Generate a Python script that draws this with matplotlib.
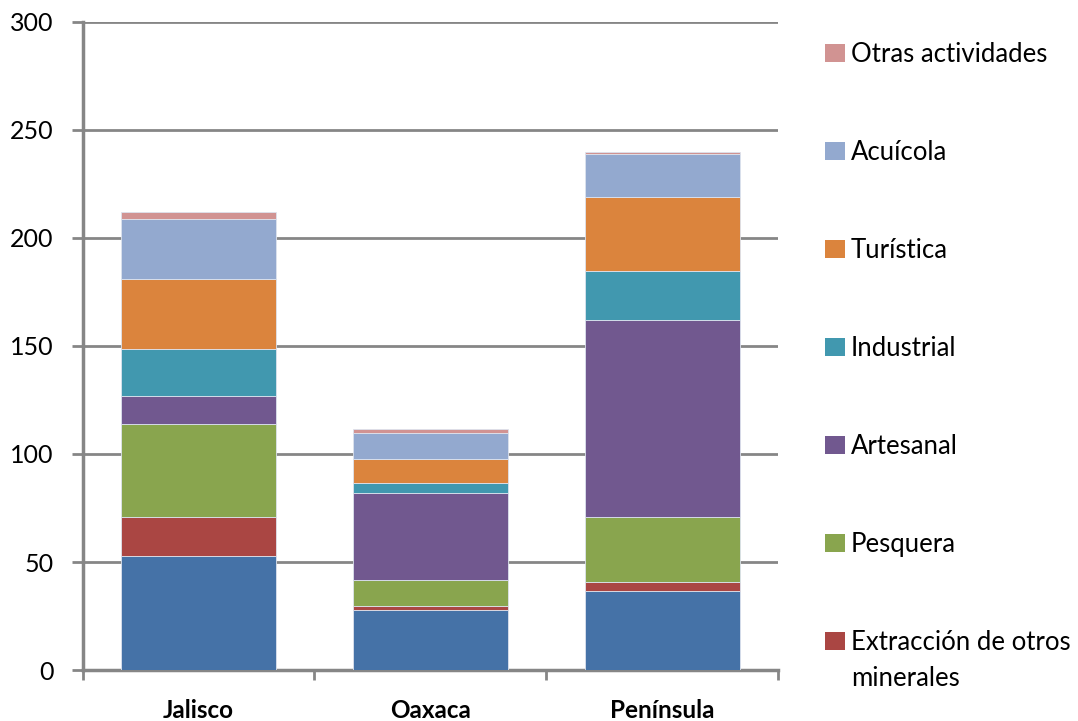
import matplotlib.pyplot as plt
from matplotlib.patches import Rectangle

plt.rcParams['font.family'] = ['Lato', 'DejaVu Sans']

regiones = ["Jalisco", "Oaxaca", "Península"]

# stacked from the bottom up
actividades = ["Petrolera", "Extracción de otros\nminerales", "Pesquera",
               "Artesanal", "Industrial", "Turística", "Acuícola",
               "Otras actividades"]
colores = ["#4572A7", "#AA4643", "#89A54E", "#71588F",
           "#4198AF", "#DB843D", "#93A9CF", "#D19392"]

petrolera = [52.7, 27.7, 36.8]
otros_minerales = [18.0, 1.8, 3.8]
pesquera = [43.1, 12.3, 30.1]
artesanal = [13.0, 40.1, 91.1]
industrial = [21.9, 4.6, 22.8]
turistica = [32.1, 11.3, 34.1]
acuicola = [28.1, 11.8, 19.9]
otras = [2.9, 2.1, 1.1]

series = [petrolera, otros_minerales, pesquera, artesanal,
          industrial, turistica, acuicola, otras]

fig = plt.figure(figsize=(10.78, 7.21), dpi=100)
ax = fig.add_axes([0.0766, 0.0705, 0.6454, 0.8995])

gris = "#868686"
x = range(len(regiones))
base = [0.0] * len(regiones)
for vals, color in zip(series, colores):
    ax.bar(x, vals, bottom=base, width=0.67, color=color,
           edgecolor="#dde3ee", linewidth=0.6, zorder=3)
    base = [b + v for b, v in zip(base, vals)]

ax.set_xlim(-0.5, 2.5)
ax.set_ylim(0, 300)
ax.set_yticks(range(0, 301, 50))
ax.yaxis.grid(True, color=gris, linewidth=2)
ax.set_axisbelow(True)

ax.set_xticks(x)
ax.set_xticklabels(regiones, fontsize=17.5, fontweight="bold")
ax.tick_params(axis="x", length=0, pad=21)
# category separators below the axis line
ax.set_xticks([-0.5, 0.5, 1.5, 2.5], minor=True)
ax.tick_params(axis="x", which="minor", length=7, width=2, color=gris)
ax.tick_params(axis="y", length=8, width=2, color=gris,
               labelsize=18, pad=13)

for s in ["top", "right"]:
    ax.spines[s].set_visible(False)
for s in ["left", "bottom"]:
    ax.spines[s].set_color(gris)
    ax.spines[s].set_linewidth(2.5)

# legend, top entry first; one text per line so the swatch sits on line one
W, H = fig.get_size_inches() * fig.dpi
paso = 98.0
interlinea = 36.0
for i, (nombre, color) in enumerate(zip(actividades[::-1], colores[::-1])):
    if nombre == "Petrolera":
        continue
    yc = 53 + i * paso
    fig.patches.append(Rectangle((825 / W, 1 - (yc + 9) / H), 20 / W, 18 / H,
                                 transform=fig.transFigure,
                                 facecolor=color, edgecolor="none"))
    for k, linea in enumerate(nombre.split("\n")):
        fig.text(851 / W, 1 - (yc + 9 + k * interlinea) / H, linea,
                 fontsize=18.5, va="baseline", ha="left")

fig.savefig("out.png", dpi=100)
